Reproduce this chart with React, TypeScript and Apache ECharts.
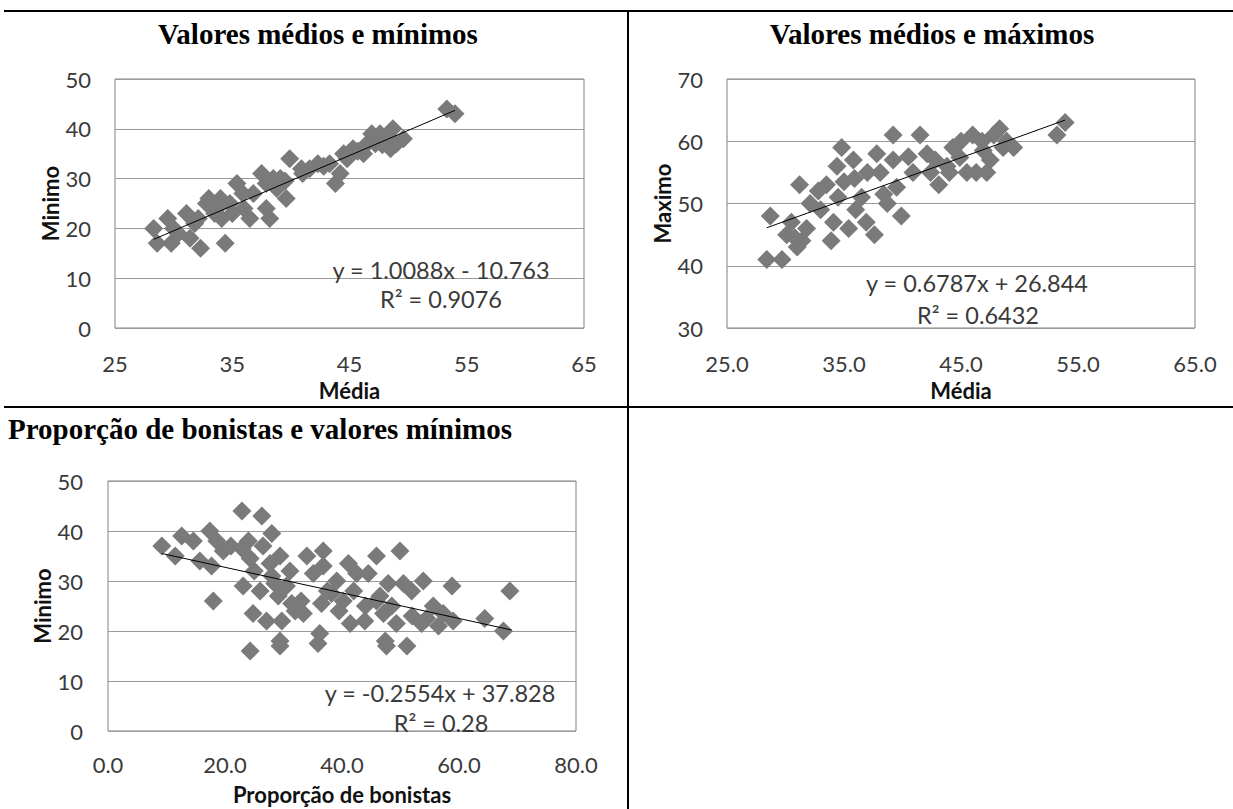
import { useEffect, useRef } from "react";
import * as echarts from "echarts";

const titles = [
  "Valores médios e mínimos",
  "Valores médios e máximos",
  "Proporção de bonistas e valores mínimos",
];

const axisNamesX = ["Média", "Média", "Proporção de bonistas"];
const axisNamesY = ["Minimo", "Maximo", "Minimo"];

const equations = [
  ["y = 1.0088x - 10.763", "R² = 0.9076"],
  ["y = 0.6787x + 26.844", "R² = 0.6432"],
  ["y = -0.2554x + 37.828", "R² = 0.28"],
];

const mediaMinimo: [number, number][] = [
  [28.3, 20], [28.6, 17], [29.5, 22], [29.8, 17], [30.4, 19], [30.0, 20], [31.1, 23], [31.4, 18],
  [31.8, 21], [32.3, 16], [32.1, 22], [33.0, 26], [32.8, 25], [33.5, 23], [33.7, 24], [34.4, 17],
  [34.1, 22], [34.0, 26], [34.8, 25], [35.0, 23], [35.4, 29], [35.9, 27], [36.0, 24], [36.5, 22],
  [36.8, 27], [37.5, 31], [37.9, 29], [37.9, 24], [38.2, 22], [38.5, 30], [38.8, 28], [39.1, 30],
  [39.6, 26], [39.5, 29.5], [39.9, 34], [40.9, 32], [41.0, 31], [41.6, 32], [42.3, 33], [42.8, 32.5],
  [43.3, 33], [43.8, 29], [44.2, 31], [44.5, 35], [44.8, 34], [45.3, 36], [45.7, 35.5], [46.2, 35],
  [46.5, 37], [46.9, 39], [47.2, 37], [47.6, 39], [47.8, 36.8], [48.0, 38], [48.5, 36], [48.7, 40],
  [49.0, 37], [49.6, 38], [53.3, 44], [54.0, 43],
];
const mediaMinimoTrend: [number, number][] = [[28.3, 17.8], [54.0, 43.7]];

const mediaMaximo: [number, number][] = [
  [28.4, 41], [28.7, 48], [29.7, 41], [30.1, 45], [30.5, 47], [30.8, 44.5], [31.0, 43], [31.4, 44],
  [31.2, 53], [31.8, 46], [32.1, 50], [32.8, 52], [33.0, 49], [33.5, 53], [33.9, 44], [34.1, 47],
  [34.5, 51], [34.8, 59], [34.4, 56], [35.0, 53.5], [35.4, 46], [35.8, 57], [35.9, 54], [36.0, 49],
  [36.5, 51], [36.9, 47], [37.0, 55], [37.6, 45], [37.8, 58], [38.1, 55], [38.4, 51.5], [38.7, 50],
  [39.2, 61], [39.2, 57], [39.5, 52.6], [39.9, 48], [40.5, 57.5], [40.9, 55], [41.5, 61], [42.1, 58],
  [42.4, 55], [42.8, 57], [43.1, 53], [43.8, 56], [44.0, 55], [44.3, 59], [44.9, 57.4], [45.0, 60],
  [45.5, 55], [46.0, 61], [46.3, 55], [46.8, 60], [46.9, 58.5], [47.2, 55], [47.5, 57], [47.8, 61],
  [48.3, 62], [48.6, 59], [48.9, 60], [49.5, 59], [53.2, 61], [53.9, 63],
];
const mediaMaximoTrend: [number, number][] = [[28.4, 46.1], [53.9, 63.4]];

const bonistasMinimo: [number, number][] = [
  [9.2, 37], [11.5, 35], [12.6, 39], [14.6, 38], [15.7, 34], [17.4, 40], [17.7, 33], [18.0, 26],
  [18.6, 38], [19.7, 36], [21.0, 37], [22.9, 44], [22.9, 36.5], [23.1, 29], [24.0, 38], [24.3, 16],
  [24.8, 23.5], [24.3, 34.5], [25.0, 32], [26.0, 28], [26.3, 43], [26.5, 37], [27.1, 22], [28.0, 39.5],
  [27.7, 33.5], [28.0, 31], [28.5, 29.5], [29.1, 27], [29.4, 18], [29.4, 17], [29.7, 22], [29.4, 35],
  [30.5, 29], [31.1, 32], [31.4, 25.5], [32.0, 24], [33.0, 26], [33.4, 23.5], [34.0, 35], [35.1, 31.5],
  [35.9, 17.5], [36.2, 19.5], [36.8, 36], [36.5, 25.5], [36.8, 33], [37.5, 28], [38.2, 27.5], [39.1, 30],
  [39.5, 24], [40.2, 26], [41.1, 33.5], [41.4, 21.5], [42.0, 28], [42.5, 31.5], [43.9, 22], [44.0, 25],
  [44.5, 31.5], [45.9, 35], [45.9, 26], [46.5, 27], [47.1, 23.5], [47.4, 18], [47.6, 17], [47.9, 29.5],
  [48.5, 25], [49.3, 21.5], [49.9, 36], [50.5, 29.5], [51.1, 17], [51.9, 28], [52.0, 23], [53.6, 21.5],
  [53.9, 30], [54.5, 22.5], [55.6, 25], [56.5, 21], [57.3, 23.5], [58.8, 29], [59.0, 22], [64.4, 22.5],
  [67.6, 20], [68.7, 28],
];
const bonistasMinimoTrend: [number, number][] = [[9.2, 35.5], [69.0, 20.2]];

const grids = [
  { left: 115, top: 79, width: 469, height: 249 },
  { left: 727, top: 79, width: 468, height: 249 },
  { left: 108, top: 481, width: 468, height: 250 },
];

const labelFont = "Lato";
const gridLineColor = "#9a9a9a";
const borderColor = "#808080";
const markerColor = "#7a7a7a";

export default function App() {
  const ref = useRef<HTMLDivElement>(null);

  useEffect(() => {
    if (!ref.current) return;
    const chart = echarts.init(ref.current, undefined, { renderer: "svg" });

    const baseLabel = { color: "#3a3a3a", fontFamily: labelFont, fontSize: 22 };
    const nameStyle = { color: "#111", fontFamily: labelFont, fontSize: 22, fontWeight: "bold" as const };

    const makeX = (gi: number, min: number, max: number, interval: number, fmt: (v: number) => string, margin: number, nameGap: number) => ({
      type: "value",
      gridIndex: gi,
      min,
      max,
      interval,
      name: axisNamesX[gi],
      nameLocation: "middle",
      nameGap,
      nameTextStyle: nameStyle,
      axisLine: { show: false },
      axisTick: { show: false },
      splitLine: { show: false },
      axisLabel: { ...baseLabel, margin, formatter: fmt },
    });
    const makeY = (gi: number, min: number, max: number, margin: number, nameGap: number) => ({
      type: "value",
      gridIndex: gi,
      min,
      max,
      interval: 10,
      name: axisNamesY[gi],
      nameLocation: "middle",
      nameGap,
      nameTextStyle: nameStyle,
      axisLine: { show: false },
      axisTick: { show: false },
      splitLine: { show: true, lineStyle: { color: gridLineColor, width: 1 } },
      axisLabel: { ...baseLabel, margin },
    });

    const scatter = (i: number, data: [number, number][]) => ({
      type: "scatter",
      xAxisIndex: i,
      yAxisIndex: i,
      data,
      symbol: "diamond",
      symbolSize: 19,
      itemStyle: { color: markerColor, opacity: 1 },
      z: 2,
    });
    const trend = (i: number, data: [number, number][]) => ({
      type: "line",
      xAxisIndex: i,
      yAxisIndex: i,
      data,
      showSymbol: false,
      symbol: "none",
      lineStyle: { color: "#000", width: 1 },
      z: 3,
    });

    const text = (t: string, x: number, y: number, opts: any = {}) => ({
      type: "text",
      x,
      y,
      z: 10,
      style: {
        text: t,
        align: "center",
        verticalAlign: "middle",
        fontFamily: labelFont,
        fontSize: 23.5,
        fill: "#3a3a3a",
        ...opts,
      },
    });
    const titleStyle = { fontFamily: "Liberation Serif", fontSize: 29, fontWeight: "bold", fill: "#000" };
    const hline = (x1: number, x2: number, y: number) => ({
      type: "line",
      shape: { x1, y1: y, x2, y2: y },
      style: { stroke: "#000", lineWidth: 2 },
      z: 10,
    });

    const oneOverFmt = (v: number) => (Math.round(v) % 10 === 5 ? String(v) : "");
    const twoFmt = (v: number) => (Math.round(v) % 10 === 5 ? v.toFixed(1) : "");

    chart.setOption({
      animation: false,
      grid: grids.map((g) => ({ ...g, show: true, borderColor, borderWidth: 1, backgroundColor: "#fff" })),
      xAxis: [
        makeX(0, 25, 65, 5, oneOverFmt, 24, 51),
        makeX(1, 25, 65, 5, twoFmt, 24, 51),
        makeX(2, 0, 80, 20, (v: number) => v.toFixed(1), 22, 52),
      ],
      yAxis: [makeY(0, 0, 50, 24, 54), makeY(1, 30, 70, 24, 46), makeY(2, 0, 50, 25, 48)],
      series: [
        scatter(0, mediaMinimo),
        trend(0, mediaMinimoTrend),
        scatter(1, mediaMaximo),
        trend(1, mediaMaximoTrend),
        scatter(2, bonistasMinimo),
        trend(2, bonistasMinimoTrend),
      ],
      graphic: [
        hline(4, 1233, 11),
        hline(4, 1233, 407),
        {
          type: "line",
          shape: { x1: 628, y1: 10, x2: 628, y2: 809 },
          style: { stroke: "#000", lineWidth: 2 },
          z: 10,
        },
        text(titles[0], 318, 34, titleStyle),
        text(titles[1], 932, 34, titleStyle),
        text(titles[2], 8, 429, { ...titleStyle, align: "left" }),
        text(equations[0][0], 441, 270),
        text(equations[0][1], 441, 299),
        text(equations[1][0], 977, 283),
        text(equations[1][1], 978, 315),
        text(equations[2][0], 440, 693),
        text(equations[2][1], 441, 723),
      ],
    });

    return () => chart.dispose();
  }, []);

  return (
    <div
      ref={ref}
      style={{ position: "absolute", left: 0, top: 0, width: 1233, height: 809, background: "#fff" }}
    />
  );
}
